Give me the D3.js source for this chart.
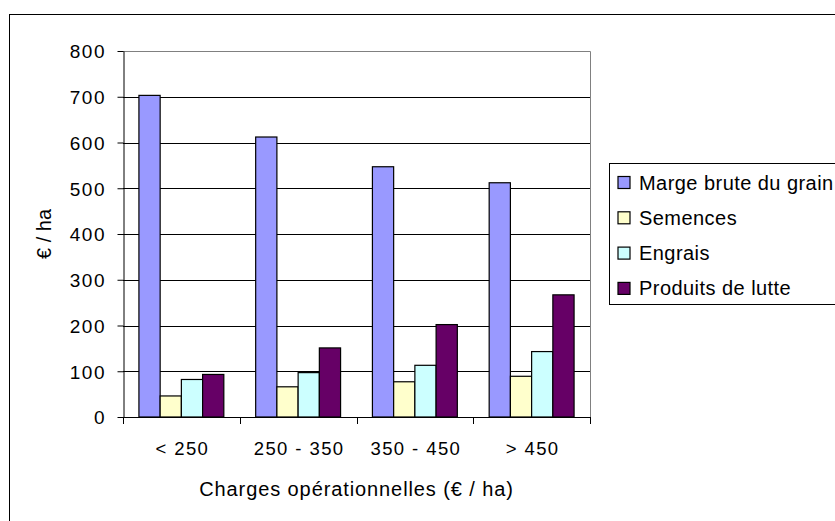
<!DOCTYPE html>
<html>
<head>
<meta charset="utf-8">
<script src="https://cdn.jsdelivr.net/npm/d3@7"></script>
<style>
  body { margin: 0; background: #fff; }
  svg text { font-family: "Liberation Sans", Arial, sans-serif; fill: #000; }
</style>
</head>
<body>
<svg id="chart" width="835" height="521"></svg>
<script>
var categories = ["< 250", "250 - 350", "350 - 450", "> 450"];
var seriesNames = ["Marge brute du grain", "Semences", "Engrais", "Produits de lutte"];
var margeBrute = [703, 612, 547, 512];
var semences = [46, 66, 77, 89];
var engrais = [82, 97, 113, 143];
var produitsLutte = [93, 151, 202, 267];
var yTicks = [0, 100, 200, 300, 400, 500, 600, 700, 800];
var colors = ["#9999FF", "#FFFFCC", "#CCFFFF", "#660066"];

var allSeries = [margeBrute, semences, engrais, produitsLutte];

var plot = { left: 123, right: 590, top: 51, bottom: 417 };

var svg = d3.select("#chart");

// chart area border (runs off the picture on the right and bottom)
svg.append("rect")
    .attr("x", 9.5).attr("y", 14.5)
    .attr("width", 900).attr("height", 600)
    .attr("fill", "#fff")
    .attr("stroke", "#000");

var x0 = d3.scaleBand()
    .domain(categories)
    .range([plot.left, plot.right])
    .padding(0);

var x1 = d3.scaleBand()
    .domain(d3.range(seriesNames.length))
    .range([0, x0.bandwidth()])
    .paddingInner(0)
    .paddingOuter(0.75);

var y = d3.scaleLinear()
    .domain([0, 800])
    .range([plot.bottom, plot.top]);

// gridlines
svg.append("g")
    .selectAll("line")
    .data(yTicks.filter(function (d) { return d > 0 && d < 800; }))
    .enter()
    .append("line")
    .attr("x1", plot.left).attr("x2", plot.right)
    .attr("y1", function (d) { return Math.round(y(d)) + 0.5; })
    .attr("y2", function (d) { return Math.round(y(d)) + 0.5; })
    .attr("stroke", "#000");

// plot area border top / right
svg.append("path")
    .attr("d", "M" + plot.left + "," + (plot.top + 0.5) + "H" + (plot.right + 0.5) + "V" + plot.bottom)
    .attr("fill", "none")
    .attr("stroke", "#808080");

// bars
var groups = svg.append("g")
    .selectAll("g")
    .data(categories)
    .enter()
    .append("g")
    .attr("transform", function (d) { return "translate(" + x0(d) + ",0)"; });

groups.selectAll("rect")
    .data(function (d, i) {
        return allSeries.map(function (s, j) { return { s: j, v: s[i] }; });
    })
    .enter()
    .append("rect")
    .attr("x", function (d) { return x1(d.s); })
    .attr("width", x1.bandwidth())
    .attr("y", function (d) { return y(d.v); })
    .attr("height", function (d) { return y(0) - y(d.v); })
    .attr("fill", function (d) { return colors[d.s]; })
    .attr("stroke", "#000")
    .attr("stroke-width", 1.2);

// y axis
var yAxis = d3.axisLeft(y)
    .tickValues(yTicks)
    .tickSize(6)
    .tickSizeOuter(0)
    .tickPadding(11.5);

var yg = svg.append("g")
    .attr("transform", "translate(" + (plot.left + 0.5) + ",0)")
    .call(yAxis);
yg.select(".domain").attr("stroke", "#000");
yg.selectAll(".tick line").attr("stroke", "#000");
yg.selectAll(".tick text")
    .attr("font-size", 19)
    .attr("letter-spacing", 1.5)
    .attr("font-family", "Liberation Sans, Arial, sans-serif")
    .attr("dy", "0.36em");

// x axis line
svg.append("line")
    .attr("x1", plot.left).attr("x2", plot.right + 1)
    .attr("y1", plot.bottom + 0.5).attr("y2", plot.bottom + 0.5)
    .attr("stroke", "#000");

// x tick marks between categories
var edges = categories.map(function (c) { return x0(c); }).concat([plot.right]);
svg.append("g")
    .selectAll("line")
    .data(edges)
    .enter()
    .append("line")
    .attr("x1", function (d) { return Math.round(d) + 0.5; })
    .attr("x2", function (d) { return Math.round(d) + 0.5; })
    .attr("y1", plot.bottom).attr("y2", plot.bottom + 7)
    .attr("stroke", "#000");

// x labels
svg.append("g")
    .selectAll("text")
    .data(categories)
    .enter()
    .append("text")
    .attr("x", function (d) { return x0(d) + x0.bandwidth() / 2 + 1; })
    .attr("y", 455)
    .attr("text-anchor", "middle")
    .attr("font-size", 18.5)
    .attr("letter-spacing", 1.4)
    .text(function (d) { return d; });

// axis titles
svg.append("text")
    .attr("x", (plot.left + plot.right) / 2)
    .attr("y", 496)
    .attr("text-anchor", "middle")
    .attr("font-size", 20)
    .attr("letter-spacing", 0.9)
    .text("Charges opérationnelles (€ / ha)");

svg.append("text")
    .attr("transform", "translate(51," + ((plot.top + plot.bottom) / 2) + ") rotate(-90)")
    .attr("text-anchor", "middle")
    .attr("font-size", 20)
    .text("€ / ha");

// legend
var legend = svg.append("g");
legend.append("rect")
    .attr("x", 609.5).attr("y", 163.5)
    .attr("width", 300).attr("height", 141)
    .attr("fill", "#fff")
    .attr("stroke", "#000");

var items = legend.selectAll("g.item")
    .data(seriesNames)
    .enter()
    .append("g")
    .attr("class", "item")
    .attr("transform", function (d, i) { return "translate(0," + (182.5 + i * 35.3) + ")"; });

items.append("rect")
    .attr("x", 618).attr("y", -6)
    .attr("width", 12).attr("height", 12)
    .attr("fill", function (d, i) { return colors[i]; })
    .attr("stroke", "#000")
    .attr("stroke-width", 1.2);

items.append("text")
    .attr("x", 639)
    .attr("y", 7)
    .attr("font-size", 20)
    .attr("letter-spacing", 0.45)
    .text(function (d) { return d; });
</script>
</body>
</html>
